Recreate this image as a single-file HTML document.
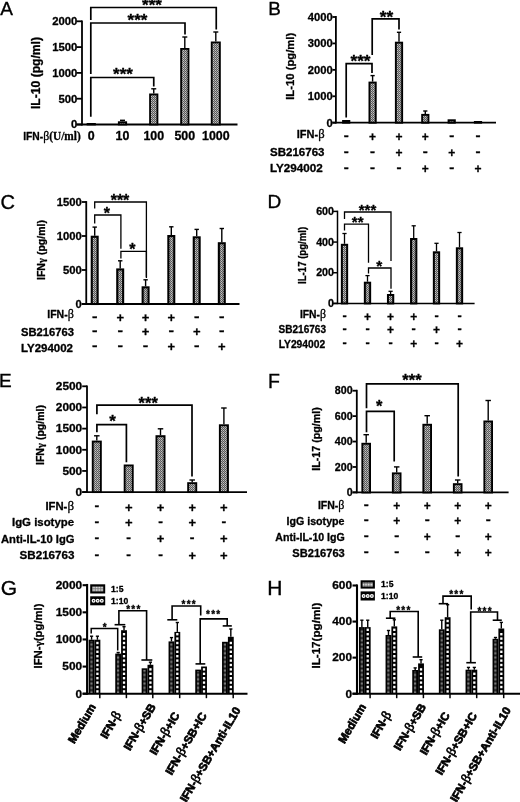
<!DOCTYPE html>
<html><head><meta charset="utf-8"><title>Figure</title>
<style>
html,body{margin:0;padding:0;background:#fff;}
svg{display:block;}
text{font-family:"Liberation Sans",Arial,Helvetica,sans-serif;fill:#000;}
text.b{stroke:#000;stroke-width:0.3px;stroke-linejoin:round;}
text.L{stroke:#000;stroke-width:0.35px;}
</style></head><body>
<svg width="520" height="802" viewBox="0 0 520 802">
<defs>
<pattern id="pg" width="2" height="2" patternUnits="userSpaceOnUse">
<rect width="2" height="2" fill="#5a5a5a"/><rect x="1" width="1" height="1" fill="#c4c4c4"/><rect y="1" width="1" height="1" fill="#a0a0a0"/>
</pattern>
<pattern id="ph" width="2" height="1.3" patternUnits="userSpaceOnUse">
<rect width="2" height="1.3" fill="#7c7c7c"/><rect width="2" height="0.65" fill="#1a1a1a"/>
</pattern>
<pattern id="pl" width="1.6" height="1.6" patternUnits="userSpaceOnUse">
<rect width="1.6" height="1.6" fill="#707070"/><rect width="1" height="1" fill="#f0f0f0"/>
</pattern>
<pattern id="pd" width="6" height="4.8" patternUnits="userSpaceOnUse">
<rect width="6" height="4.8" fill="#000"/><rect x="2" y="1.2" width="2" height="2.4" fill="#fff"/>
</pattern>
</defs>
<rect width="520" height="802" fill="#fff"/>

<text class="L" x="0.30" y="14.60" font-size="19" font-weight="normal" text-anchor="start">A</text>
<line x1="82.00" y1="20.40" x2="82.00" y2="125.40" stroke="#000" stroke-width="1.8" stroke-linecap="butt"/>
<line x1="76.50" y1="124.50" x2="237.50" y2="124.50" stroke="#000" stroke-width="1.8" stroke-linecap="butt"/>
<line x1="76.50" y1="21.30" x2="82.00" y2="21.30" stroke="#000" stroke-width="1.8" stroke-linecap="butt"/>
<text class="b" x="77.40" y="25.11" font-size="11.2" font-weight="bold" text-anchor="end" textLength="25.2" lengthAdjust="spacingAndGlyphs">2000</text>
<line x1="76.50" y1="47.10" x2="82.00" y2="47.10" stroke="#000" stroke-width="1.8" stroke-linecap="butt"/>
<text class="b" x="77.40" y="50.91" font-size="11.2" font-weight="bold" text-anchor="end" textLength="25.2" lengthAdjust="spacingAndGlyphs">1500</text>
<line x1="76.50" y1="72.90" x2="82.00" y2="72.90" stroke="#000" stroke-width="1.8" stroke-linecap="butt"/>
<text class="b" x="77.40" y="76.71" font-size="11.2" font-weight="bold" text-anchor="end" textLength="25.2" lengthAdjust="spacingAndGlyphs">1000</text>
<line x1="76.50" y1="98.70" x2="82.00" y2="98.70" stroke="#000" stroke-width="1.8" stroke-linecap="butt"/>
<text class="b" x="77.40" y="102.51" font-size="11.2" font-weight="bold" text-anchor="end" textLength="18.9" lengthAdjust="spacingAndGlyphs">500</text>
<line x1="76.50" y1="124.50" x2="82.00" y2="124.50" stroke="#000" stroke-width="1.8" stroke-linecap="butt"/>
<text class="b" x="77.40" y="128.31" font-size="11.2" font-weight="bold" text-anchor="end" textLength="6.3" lengthAdjust="spacingAndGlyphs">0</text>
<text class="b" transform="translate(40.00,73.00) rotate(-90)" font-size="12" font-weight="bold" text-anchor="middle" textLength="72.0" lengthAdjust="spacingAndGlyphs">IL-10 (pg/ml)</text>
<rect x="87.55" y="123.90" width="7.40" height="0.60" fill="url(#pg)" stroke="#000" stroke-width="1.8"/>
<rect x="118.80" y="122.20" width="7.40" height="2.30" fill="url(#pg)" stroke="#000" stroke-width="1.8"/>
<line x1="122.50" y1="121.30" x2="122.50" y2="120.30" stroke="#000" stroke-width="1.4" stroke-linecap="butt"/>
<line x1="120.00" y1="120.30" x2="125.00" y2="120.30" stroke="#000" stroke-width="1.4" stroke-linecap="butt"/>
<rect x="150.05" y="94.40" width="7.40" height="30.10" fill="url(#pg)" stroke="#000" stroke-width="1.8"/>
<line x1="153.75" y1="93.50" x2="153.75" y2="88.80" stroke="#000" stroke-width="1.4" stroke-linecap="butt"/>
<line x1="151.25" y1="88.80" x2="156.25" y2="88.80" stroke="#000" stroke-width="1.4" stroke-linecap="butt"/>
<rect x="181.10" y="48.90" width="7.40" height="75.60" fill="url(#pg)" stroke="#000" stroke-width="1.8"/>
<line x1="184.80" y1="48.00" x2="184.80" y2="37.00" stroke="#000" stroke-width="1.4" stroke-linecap="butt"/>
<line x1="182.30" y1="37.00" x2="187.30" y2="37.00" stroke="#000" stroke-width="1.4" stroke-linecap="butt"/>
<rect x="211.70" y="42.40" width="8.20" height="82.10" fill="url(#pg)" stroke="#000" stroke-width="1.8"/>
<line x1="215.80" y1="41.50" x2="215.80" y2="32.00" stroke="#000" stroke-width="1.4" stroke-linecap="butt"/>
<line x1="213.30" y1="32.00" x2="218.30" y2="32.00" stroke="#000" stroke-width="1.4" stroke-linecap="butt"/>
<text class="b" x="80.70" y="140.10" font-size="10.7" font-weight="bold" text-anchor="end" textLength="57.5" lengthAdjust="spacingAndGlyphs">IFN-<tspan font-family='"Liberation Serif", "Times New Roman", serif' font-weight="normal" font-size="1.15em">β</tspan><tspan font-family='"Liberation Serif", "Times New Roman", serif' font-weight="bold" font-size="1.1em">(U/ml)</tspan></text>
<text class="b" x="91.25" y="140.10" font-size="12" font-weight="bold" text-anchor="middle" textLength="6.9" lengthAdjust="spacingAndGlyphs">0</text>
<text class="b" x="122.50" y="140.10" font-size="12" font-weight="bold" text-anchor="middle" textLength="13.8" lengthAdjust="spacingAndGlyphs">10</text>
<text class="b" x="153.75" y="140.10" font-size="12" font-weight="bold" text-anchor="middle" textLength="20.7" lengthAdjust="spacingAndGlyphs">100</text>
<text class="b" x="184.80" y="140.10" font-size="12" font-weight="bold" text-anchor="middle" textLength="20.7" lengthAdjust="spacingAndGlyphs">500</text>
<text class="b" x="215.80" y="140.10" font-size="12" font-weight="bold" text-anchor="middle" textLength="27.6" lengthAdjust="spacingAndGlyphs">1000</text>
<polyline points="90.80,20.00 90.80,7.50 216.25,7.50 216.25,29.50" fill="none" stroke="#000" stroke-width="1.7" stroke-linejoin="miter"/>
<text class="b" x="152.00" y="11.41" font-size="17" font-weight="bold" text-anchor="middle">***</text>
<polyline points="90.80,74.00 90.80,23.00 185.00,23.00 185.00,34.60" fill="none" stroke="#000" stroke-width="1.7" stroke-linejoin="miter"/>
<text class="b" x="137.50" y="26.41" font-size="17" font-weight="bold" text-anchor="middle">***</text>
<polyline points="90.80,116.80 90.80,77.50 153.75,77.50 153.75,86.50" fill="none" stroke="#000" stroke-width="1.7" stroke-linejoin="miter"/>
<text class="b" x="123.00" y="80.11" font-size="17" font-weight="bold" text-anchor="middle">***</text>
<text class="L" x="268.30" y="15.40" font-size="19" font-weight="normal" text-anchor="start" textLength="12.6" lengthAdjust="spacingAndGlyphs">B</text>
<line x1="335.90" y1="16.10" x2="335.90" y2="123.60" stroke="#000" stroke-width="1.8" stroke-linecap="butt"/>
<line x1="332.40" y1="122.70" x2="496.00" y2="122.70" stroke="#000" stroke-width="1.8" stroke-linecap="butt"/>
<line x1="332.40" y1="17.00" x2="335.90" y2="17.00" stroke="#000" stroke-width="1.8" stroke-linecap="butt"/>
<text class="b" x="332.70" y="20.81" font-size="11.2" font-weight="bold" text-anchor="end">4000</text>
<line x1="332.40" y1="43.42" x2="335.90" y2="43.42" stroke="#000" stroke-width="1.8" stroke-linecap="butt"/>
<text class="b" x="332.70" y="47.23" font-size="11.2" font-weight="bold" text-anchor="end">3000</text>
<line x1="332.40" y1="69.85" x2="335.90" y2="69.85" stroke="#000" stroke-width="1.8" stroke-linecap="butt"/>
<text class="b" x="332.70" y="73.66" font-size="11.2" font-weight="bold" text-anchor="end">2000</text>
<line x1="332.40" y1="96.28" x2="335.90" y2="96.28" stroke="#000" stroke-width="1.8" stroke-linecap="butt"/>
<text class="b" x="332.70" y="100.08" font-size="11.2" font-weight="bold" text-anchor="end">1000</text>
<line x1="332.40" y1="122.70" x2="335.90" y2="122.70" stroke="#000" stroke-width="1.8" stroke-linecap="butt"/>
<text class="b" x="332.70" y="126.51" font-size="11.2" font-weight="bold" text-anchor="end">0</text>
<text class="b" transform="translate(293.50,66.30) rotate(-90)" font-size="11.3" font-weight="bold" text-anchor="middle" textLength="67.0" lengthAdjust="spacingAndGlyphs">IL-10 (pg/ml)</text>
<rect x="343.05" y="120.95" width="6.30" height="1.75" fill="url(#pg)" stroke="#000" stroke-width="1.9"/>
<rect x="369.45" y="82.55" width="6.30" height="40.15" fill="url(#pg)" stroke="#000" stroke-width="1.9"/>
<line x1="372.60" y1="81.60" x2="372.60" y2="75.60" stroke="#000" stroke-width="1.4" stroke-linecap="butt"/>
<line x1="370.50" y1="75.60" x2="374.70" y2="75.60" stroke="#000" stroke-width="1.4" stroke-linecap="butt"/>
<rect x="395.85" y="42.65" width="6.30" height="80.05" fill="url(#pg)" stroke="#000" stroke-width="1.9"/>
<line x1="399.00" y1="41.70" x2="399.00" y2="32.30" stroke="#000" stroke-width="1.4" stroke-linecap="butt"/>
<line x1="396.90" y1="32.30" x2="401.10" y2="32.30" stroke="#000" stroke-width="1.4" stroke-linecap="butt"/>
<rect x="422.15" y="114.85" width="6.30" height="7.85" fill="url(#pg)" stroke="#000" stroke-width="1.9"/>
<line x1="425.30" y1="113.90" x2="425.30" y2="111.00" stroke="#000" stroke-width="1.4" stroke-linecap="butt"/>
<line x1="423.20" y1="111.00" x2="427.40" y2="111.00" stroke="#000" stroke-width="1.4" stroke-linecap="butt"/>
<rect x="448.55" y="120.25" width="6.30" height="2.45" fill="url(#pg)" stroke="#000" stroke-width="1.9"/>
<rect x="474.85" y="121.95" width="6.30" height="0.75" fill="url(#pg)" stroke="#000" stroke-width="1.9"/>
<text class="b" x="324.60" y="137.50" font-size="11" font-weight="bold" text-anchor="end">IFN-<tspan font-family='"Liberation Serif", "Times New Roman", serif' font-weight="normal" font-size="1.15em">β</tspan></text>
<text class="b" x="324.50" y="155.90" font-size="11" font-weight="bold" text-anchor="end" textLength="54.5" lengthAdjust="spacingAndGlyphs">SB216763</text>
<text class="b" x="322.80" y="172.30" font-size="11" font-weight="bold" text-anchor="end" textLength="52.8" lengthAdjust="spacingAndGlyphs">LY294002</text>
<text class="b" x="346.20" y="140.22" font-size="12" font-weight="bold" text-anchor="middle" textLength="5.0" lengthAdjust="spacingAndGlyphs">-</text>
<text class="b" x="372.60" y="141.18" font-size="12" font-weight="bold" text-anchor="middle">+</text>
<text class="b" x="399.00" y="141.18" font-size="12" font-weight="bold" text-anchor="middle">+</text>
<text class="b" x="425.30" y="141.18" font-size="12" font-weight="bold" text-anchor="middle">+</text>
<text class="b" x="451.70" y="140.22" font-size="12" font-weight="bold" text-anchor="middle" textLength="5.0" lengthAdjust="spacingAndGlyphs">-</text>
<text class="b" x="478.00" y="140.22" font-size="12" font-weight="bold" text-anchor="middle" textLength="5.0" lengthAdjust="spacingAndGlyphs">-</text>
<text class="b" x="346.20" y="155.82" font-size="12" font-weight="bold" text-anchor="middle" textLength="5.0" lengthAdjust="spacingAndGlyphs">-</text>
<text class="b" x="372.60" y="155.82" font-size="12" font-weight="bold" text-anchor="middle" textLength="5.0" lengthAdjust="spacingAndGlyphs">-</text>
<text class="b" x="399.00" y="156.78" font-size="12" font-weight="bold" text-anchor="middle">+</text>
<text class="b" x="425.30" y="155.82" font-size="12" font-weight="bold" text-anchor="middle" textLength="5.0" lengthAdjust="spacingAndGlyphs">-</text>
<text class="b" x="451.70" y="156.78" font-size="12" font-weight="bold" text-anchor="middle">+</text>
<text class="b" x="478.00" y="155.82" font-size="12" font-weight="bold" text-anchor="middle" textLength="5.0" lengthAdjust="spacingAndGlyphs">-</text>
<text class="b" x="346.20" y="171.92" font-size="12" font-weight="bold" text-anchor="middle" textLength="5.0" lengthAdjust="spacingAndGlyphs">-</text>
<text class="b" x="372.60" y="171.92" font-size="12" font-weight="bold" text-anchor="middle" textLength="5.0" lengthAdjust="spacingAndGlyphs">-</text>
<text class="b" x="399.00" y="171.92" font-size="12" font-weight="bold" text-anchor="middle" textLength="5.0" lengthAdjust="spacingAndGlyphs">-</text>
<text class="b" x="425.30" y="172.88" font-size="12" font-weight="bold" text-anchor="middle">+</text>
<text class="b" x="451.70" y="171.92" font-size="12" font-weight="bold" text-anchor="middle" textLength="5.0" lengthAdjust="spacingAndGlyphs">-</text>
<text class="b" x="478.00" y="172.88" font-size="12" font-weight="bold" text-anchor="middle">+</text>
<polyline points="346.20,117.50 346.20,63.60 372.00,63.60 372.00,73.00" fill="none" stroke="#000" stroke-width="1.7" stroke-linejoin="miter"/>
<text class="b" x="360.50" y="67.40" font-size="17.3" font-weight="bold" text-anchor="middle">***</text>
<polyline points="372.20,55.00 372.20,18.80 399.00,18.80 399.00,29.60" fill="none" stroke="#000" stroke-width="1.7" stroke-linejoin="miter"/>
<text class="b" x="386.50" y="23.00" font-size="17.3" font-weight="bold" text-anchor="middle">**</text>
<text class="L" x="0.50" y="209.30" font-size="20" font-weight="normal" text-anchor="start">C</text>
<line x1="86.25" y1="201.10" x2="86.25" y2="304.90" stroke="#000" stroke-width="1.8" stroke-linecap="butt"/>
<line x1="81.75" y1="304.00" x2="239.50" y2="304.00" stroke="#000" stroke-width="1.8" stroke-linecap="butt"/>
<line x1="81.75" y1="202.00" x2="86.25" y2="202.00" stroke="#000" stroke-width="1.8" stroke-linecap="butt"/>
<text class="b" x="81.75" y="205.74" font-size="11" font-weight="bold" text-anchor="end" textLength="25.0" lengthAdjust="spacingAndGlyphs">1500</text>
<line x1="81.75" y1="236.00" x2="86.25" y2="236.00" stroke="#000" stroke-width="1.8" stroke-linecap="butt"/>
<text class="b" x="81.75" y="239.74" font-size="11" font-weight="bold" text-anchor="end" textLength="25.0" lengthAdjust="spacingAndGlyphs">1000</text>
<line x1="81.75" y1="270.00" x2="86.25" y2="270.00" stroke="#000" stroke-width="1.8" stroke-linecap="butt"/>
<text class="b" x="81.75" y="273.74" font-size="11" font-weight="bold" text-anchor="end" textLength="18.8" lengthAdjust="spacingAndGlyphs">500</text>
<line x1="81.75" y1="304.00" x2="86.25" y2="304.00" stroke="#000" stroke-width="1.8" stroke-linecap="butt"/>
<text class="b" x="81.75" y="307.74" font-size="11" font-weight="bold" text-anchor="end" textLength="6.2" lengthAdjust="spacingAndGlyphs">0</text>
<text class="b" transform="translate(45.00,250.00) rotate(-90)" font-size="10.4" font-weight="bold" text-anchor="middle" textLength="60.0" lengthAdjust="spacingAndGlyphs">IFN<tspan font-family='"Liberation Serif", "Times New Roman", serif' font-weight="bold">γ</tspan> (pg/ml)</text>
<rect x="91.75" y="236.75" width="5.90" height="67.25" fill="url(#pg)" stroke="#000" stroke-width="2.1"/>
<line x1="94.70" y1="235.70" x2="94.70" y2="227.10" stroke="#000" stroke-width="1.4" stroke-linecap="butt"/>
<line x1="92.50" y1="227.10" x2="96.90" y2="227.10" stroke="#000" stroke-width="1.4" stroke-linecap="butt"/>
<rect x="117.25" y="269.45" width="5.90" height="34.55" fill="url(#pg)" stroke="#000" stroke-width="2.1"/>
<line x1="120.20" y1="268.40" x2="120.20" y2="260.80" stroke="#000" stroke-width="1.4" stroke-linecap="butt"/>
<line x1="118.00" y1="260.80" x2="122.40" y2="260.80" stroke="#000" stroke-width="1.4" stroke-linecap="butt"/>
<rect x="142.65" y="287.35" width="5.90" height="16.65" fill="url(#pg)" stroke="#000" stroke-width="2.1"/>
<line x1="145.60" y1="286.30" x2="145.60" y2="279.80" stroke="#000" stroke-width="1.4" stroke-linecap="butt"/>
<line x1="143.40" y1="279.80" x2="147.80" y2="279.80" stroke="#000" stroke-width="1.4" stroke-linecap="butt"/>
<rect x="168.35" y="236.05" width="5.90" height="67.95" fill="url(#pg)" stroke="#000" stroke-width="2.1"/>
<line x1="171.30" y1="235.00" x2="171.30" y2="226.80" stroke="#000" stroke-width="1.4" stroke-linecap="butt"/>
<line x1="169.10" y1="226.80" x2="173.50" y2="226.80" stroke="#000" stroke-width="1.4" stroke-linecap="butt"/>
<rect x="193.75" y="237.35" width="5.90" height="66.65" fill="url(#pg)" stroke="#000" stroke-width="2.1"/>
<line x1="196.70" y1="236.30" x2="196.70" y2="229.40" stroke="#000" stroke-width="1.4" stroke-linecap="butt"/>
<line x1="194.50" y1="229.40" x2="198.90" y2="229.40" stroke="#000" stroke-width="1.4" stroke-linecap="butt"/>
<rect x="218.85" y="243.25" width="5.90" height="60.75" fill="url(#pg)" stroke="#000" stroke-width="2.1"/>
<line x1="221.80" y1="242.20" x2="221.80" y2="228.50" stroke="#000" stroke-width="1.4" stroke-linecap="butt"/>
<line x1="219.60" y1="228.50" x2="224.00" y2="228.50" stroke="#000" stroke-width="1.4" stroke-linecap="butt"/>
<text class="b" x="73.80" y="318.00" font-size="10.5" font-weight="bold" text-anchor="end">IFN-<tspan font-family='"Liberation Serif", "Times New Roman", serif' font-weight="normal" font-size="1.15em">β</tspan></text>
<text class="b" x="74.00" y="336.00" font-size="10.5" font-weight="bold" text-anchor="end" textLength="53.0" lengthAdjust="spacingAndGlyphs">SB216763</text>
<text class="b" x="73.00" y="351.50" font-size="10.5" font-weight="bold" text-anchor="end" textLength="52.0" lengthAdjust="spacingAndGlyphs">LY294002</text>
<text class="b" x="94.70" y="320.68" font-size="13" font-weight="bold" text-anchor="middle" textLength="5.5" lengthAdjust="spacingAndGlyphs">-</text>
<text class="b" x="120.20" y="321.72" font-size="13" font-weight="bold" text-anchor="middle">+</text>
<text class="b" x="145.60" y="321.72" font-size="13" font-weight="bold" text-anchor="middle">+</text>
<text class="b" x="171.30" y="321.72" font-size="13" font-weight="bold" text-anchor="middle">+</text>
<text class="b" x="196.70" y="320.68" font-size="13" font-weight="bold" text-anchor="middle" textLength="5.5" lengthAdjust="spacingAndGlyphs">-</text>
<text class="b" x="221.80" y="320.68" font-size="13" font-weight="bold" text-anchor="middle" textLength="5.5" lengthAdjust="spacingAndGlyphs">-</text>
<text class="b" x="94.70" y="335.18" font-size="13" font-weight="bold" text-anchor="middle" textLength="5.5" lengthAdjust="spacingAndGlyphs">-</text>
<text class="b" x="120.20" y="335.18" font-size="13" font-weight="bold" text-anchor="middle" textLength="5.5" lengthAdjust="spacingAndGlyphs">-</text>
<text class="b" x="145.60" y="336.22" font-size="13" font-weight="bold" text-anchor="middle">+</text>
<text class="b" x="171.30" y="335.18" font-size="13" font-weight="bold" text-anchor="middle" textLength="5.5" lengthAdjust="spacingAndGlyphs">-</text>
<text class="b" x="196.70" y="336.22" font-size="13" font-weight="bold" text-anchor="middle">+</text>
<text class="b" x="221.80" y="335.18" font-size="13" font-weight="bold" text-anchor="middle" textLength="5.5" lengthAdjust="spacingAndGlyphs">-</text>
<text class="b" x="94.70" y="350.38" font-size="13" font-weight="bold" text-anchor="middle" textLength="5.5" lengthAdjust="spacingAndGlyphs">-</text>
<text class="b" x="120.20" y="350.38" font-size="13" font-weight="bold" text-anchor="middle" textLength="5.5" lengthAdjust="spacingAndGlyphs">-</text>
<text class="b" x="145.60" y="350.38" font-size="13" font-weight="bold" text-anchor="middle" textLength="5.5" lengthAdjust="spacingAndGlyphs">-</text>
<text class="b" x="171.30" y="351.42" font-size="13" font-weight="bold" text-anchor="middle">+</text>
<text class="b" x="196.70" y="350.38" font-size="13" font-weight="bold" text-anchor="middle" textLength="5.5" lengthAdjust="spacingAndGlyphs">-</text>
<text class="b" x="221.80" y="351.42" font-size="13" font-weight="bold" text-anchor="middle">+</text>
<polyline points="94.70,208.50 94.70,202.00 146.40,202.00 146.40,278.00" fill="none" stroke="#000" stroke-width="1.3" stroke-linejoin="miter"/>
<text class="b" x="120.00" y="205.79" font-size="16" font-weight="bold" text-anchor="middle">***</text>
<polyline points="94.70,223.60 94.70,215.00 120.90,215.00 120.90,248.70" fill="none" stroke="#000" stroke-width="1.3" stroke-linejoin="miter"/>
<text class="b" x="106.80" y="218.89" font-size="16" font-weight="bold" text-anchor="middle">*</text>
<polyline points="120.90,258.50 120.90,251.40 146.40,251.40 146.40,277.00" fill="none" stroke="#000" stroke-width="1.3" stroke-linejoin="miter"/>
<text class="b" x="132.30" y="254.89" font-size="16" font-weight="bold" text-anchor="middle">*</text>
<text class="L" x="267.60" y="207.80" font-size="19" font-weight="normal" text-anchor="start">D</text>
<line x1="337.50" y1="210.65" x2="337.50" y2="304.15" stroke="#000" stroke-width="1.5" stroke-linecap="butt"/>
<line x1="333.10" y1="303.40" x2="474.60" y2="303.40" stroke="#000" stroke-width="1.5" stroke-linecap="butt"/>
<line x1="333.10" y1="211.40" x2="337.50" y2="211.40" stroke="#000" stroke-width="1.5" stroke-linecap="butt"/>
<text class="b" x="334.00" y="215.04" font-size="10.7" font-weight="bold" text-anchor="end">600</text>
<line x1="333.10" y1="242.07" x2="337.50" y2="242.07" stroke="#000" stroke-width="1.5" stroke-linecap="butt"/>
<text class="b" x="334.00" y="245.70" font-size="10.7" font-weight="bold" text-anchor="end">400</text>
<line x1="333.10" y1="272.73" x2="337.50" y2="272.73" stroke="#000" stroke-width="1.5" stroke-linecap="butt"/>
<text class="b" x="334.00" y="276.37" font-size="10.7" font-weight="bold" text-anchor="end">200</text>
<line x1="333.10" y1="303.40" x2="337.50" y2="303.40" stroke="#000" stroke-width="1.5" stroke-linecap="butt"/>
<text class="b" x="334.00" y="307.04" font-size="10.7" font-weight="bold" text-anchor="end">0</text>
<text class="b" transform="translate(306.00,255.40) rotate(-90)" font-size="10.5" font-weight="bold" text-anchor="middle" textLength="57.0" lengthAdjust="spacingAndGlyphs">IL-17 (pg/ml)</text>
<rect x="341.85" y="244.80" width="5.30" height="58.60" fill="url(#pg)" stroke="#000" stroke-width="2.0"/>
<line x1="344.50" y1="243.80" x2="344.50" y2="233.50" stroke="#000" stroke-width="1.3" stroke-linecap="butt"/>
<line x1="342.40" y1="233.50" x2="346.60" y2="233.50" stroke="#000" stroke-width="1.3" stroke-linecap="butt"/>
<rect x="364.85" y="282.70" width="5.30" height="20.70" fill="url(#pg)" stroke="#000" stroke-width="2.0"/>
<line x1="367.50" y1="281.70" x2="367.50" y2="275.60" stroke="#000" stroke-width="1.3" stroke-linecap="butt"/>
<line x1="365.40" y1="275.60" x2="369.60" y2="275.60" stroke="#000" stroke-width="1.3" stroke-linecap="butt"/>
<rect x="387.95" y="295.00" width="5.30" height="8.40" fill="url(#pg)" stroke="#000" stroke-width="2.0"/>
<line x1="390.60" y1="294.00" x2="390.60" y2="291.30" stroke="#000" stroke-width="1.3" stroke-linecap="butt"/>
<line x1="388.50" y1="291.30" x2="392.70" y2="291.30" stroke="#000" stroke-width="1.3" stroke-linecap="butt"/>
<rect x="411.05" y="239.00" width="5.30" height="64.40" fill="url(#pg)" stroke="#000" stroke-width="2.0"/>
<line x1="413.70" y1="238.00" x2="413.70" y2="225.80" stroke="#000" stroke-width="1.3" stroke-linecap="butt"/>
<line x1="411.60" y1="225.80" x2="415.80" y2="225.80" stroke="#000" stroke-width="1.3" stroke-linecap="butt"/>
<rect x="433.85" y="252.30" width="5.30" height="51.10" fill="url(#pg)" stroke="#000" stroke-width="2.0"/>
<line x1="436.50" y1="251.30" x2="436.50" y2="243.30" stroke="#000" stroke-width="1.3" stroke-linecap="butt"/>
<line x1="434.40" y1="243.30" x2="438.60" y2="243.30" stroke="#000" stroke-width="1.3" stroke-linecap="butt"/>
<rect x="456.85" y="248.30" width="5.30" height="55.10" fill="url(#pg)" stroke="#000" stroke-width="2.0"/>
<line x1="459.50" y1="247.30" x2="459.50" y2="232.50" stroke="#000" stroke-width="1.3" stroke-linecap="butt"/>
<line x1="457.40" y1="232.50" x2="461.60" y2="232.50" stroke="#000" stroke-width="1.3" stroke-linecap="butt"/>
<text class="b" x="326.00" y="317.60" font-size="10.3" font-weight="bold" text-anchor="end">IFN-<tspan font-family='"Liberation Serif", "Times New Roman", serif' font-weight="normal" font-size="1.15em">β</tspan></text>
<text class="b" x="326.00" y="333.00" font-size="10.5" font-weight="bold" text-anchor="end" textLength="47.5" lengthAdjust="spacingAndGlyphs">SB216763</text>
<text class="b" x="325.20" y="347.70" font-size="10.5" font-weight="bold" text-anchor="end" textLength="46.5" lengthAdjust="spacingAndGlyphs">LY294002</text>
<text class="b" x="344.50" y="319.62" font-size="12" font-weight="bold" text-anchor="middle" textLength="4.2" lengthAdjust="spacingAndGlyphs">-</text>
<text class="b" x="367.50" y="320.58" font-size="12" font-weight="bold" text-anchor="middle">+</text>
<text class="b" x="390.60" y="320.58" font-size="12" font-weight="bold" text-anchor="middle">+</text>
<text class="b" x="413.70" y="320.58" font-size="12" font-weight="bold" text-anchor="middle">+</text>
<text class="b" x="436.50" y="319.62" font-size="12" font-weight="bold" text-anchor="middle" textLength="4.2" lengthAdjust="spacingAndGlyphs">-</text>
<text class="b" x="459.50" y="319.62" font-size="12" font-weight="bold" text-anchor="middle" textLength="4.2" lengthAdjust="spacingAndGlyphs">-</text>
<text class="b" x="344.50" y="332.62" font-size="12" font-weight="bold" text-anchor="middle" textLength="4.2" lengthAdjust="spacingAndGlyphs">-</text>
<text class="b" x="367.50" y="332.62" font-size="12" font-weight="bold" text-anchor="middle" textLength="4.2" lengthAdjust="spacingAndGlyphs">-</text>
<text class="b" x="390.60" y="333.58" font-size="12" font-weight="bold" text-anchor="middle">+</text>
<text class="b" x="413.70" y="332.62" font-size="12" font-weight="bold" text-anchor="middle" textLength="4.2" lengthAdjust="spacingAndGlyphs">-</text>
<text class="b" x="436.50" y="333.58" font-size="12" font-weight="bold" text-anchor="middle">+</text>
<text class="b" x="459.50" y="332.62" font-size="12" font-weight="bold" text-anchor="middle" textLength="4.2" lengthAdjust="spacingAndGlyphs">-</text>
<text class="b" x="344.50" y="347.32" font-size="12" font-weight="bold" text-anchor="middle" textLength="4.2" lengthAdjust="spacingAndGlyphs">-</text>
<text class="b" x="367.50" y="347.32" font-size="12" font-weight="bold" text-anchor="middle" textLength="4.2" lengthAdjust="spacingAndGlyphs">-</text>
<text class="b" x="390.60" y="347.32" font-size="12" font-weight="bold" text-anchor="middle" textLength="4.2" lengthAdjust="spacingAndGlyphs">-</text>
<text class="b" x="413.70" y="348.28" font-size="12" font-weight="bold" text-anchor="middle">+</text>
<text class="b" x="436.50" y="347.32" font-size="12" font-weight="bold" text-anchor="middle" textLength="4.2" lengthAdjust="spacingAndGlyphs">-</text>
<text class="b" x="459.50" y="348.28" font-size="12" font-weight="bold" text-anchor="middle">+</text>
<polyline points="344.50,219.00 344.50,212.00 391.00,212.00 391.00,261.00" fill="none" stroke="#000" stroke-width="1.3" stroke-linejoin="miter"/>
<text class="b" x="367.50" y="215.37" font-size="15" font-weight="bold" text-anchor="middle">***</text>
<polyline points="344.50,230.40 344.50,224.20 368.50,224.20 368.50,262.70" fill="none" stroke="#000" stroke-width="1.3" stroke-linejoin="miter"/>
<text class="b" x="357.70" y="227.47" font-size="15" font-weight="bold" text-anchor="middle">**</text>
<polyline points="368.50,273.50 368.50,268.00 391.00,268.00 391.00,288.80" fill="none" stroke="#000" stroke-width="1.3" stroke-linejoin="miter"/>
<text class="b" x="379.20" y="271.33" font-size="15.5" font-weight="bold" text-anchor="middle">*</text>
<text class="L" x="-1.00" y="387.40" font-size="19" font-weight="normal" text-anchor="start">E</text>
<line x1="87.00" y1="385.40" x2="87.00" y2="493.00" stroke="#000" stroke-width="1.8" stroke-linecap="butt"/>
<line x1="82.20" y1="492.10" x2="247.00" y2="492.10" stroke="#000" stroke-width="1.8" stroke-linecap="butt"/>
<line x1="82.20" y1="386.30" x2="87.00" y2="386.30" stroke="#000" stroke-width="1.8" stroke-linecap="butt"/>
<text class="b" x="82.20" y="390.04" font-size="11" font-weight="bold" text-anchor="end" textLength="26.4" lengthAdjust="spacingAndGlyphs">2500</text>
<line x1="82.20" y1="407.46" x2="87.00" y2="407.46" stroke="#000" stroke-width="1.8" stroke-linecap="butt"/>
<text class="b" x="82.20" y="411.20" font-size="11" font-weight="bold" text-anchor="end" textLength="26.4" lengthAdjust="spacingAndGlyphs">2000</text>
<line x1="82.20" y1="428.62" x2="87.00" y2="428.62" stroke="#000" stroke-width="1.8" stroke-linecap="butt"/>
<text class="b" x="82.20" y="432.36" font-size="11" font-weight="bold" text-anchor="end" textLength="26.4" lengthAdjust="spacingAndGlyphs">1500</text>
<line x1="82.20" y1="449.78" x2="87.00" y2="449.78" stroke="#000" stroke-width="1.8" stroke-linecap="butt"/>
<text class="b" x="82.20" y="453.52" font-size="11" font-weight="bold" text-anchor="end" textLength="26.4" lengthAdjust="spacingAndGlyphs">1000</text>
<line x1="82.20" y1="470.94" x2="87.00" y2="470.94" stroke="#000" stroke-width="1.8" stroke-linecap="butt"/>
<text class="b" x="82.20" y="474.68" font-size="11" font-weight="bold" text-anchor="end" textLength="19.8" lengthAdjust="spacingAndGlyphs">500</text>
<line x1="82.20" y1="492.10" x2="87.00" y2="492.10" stroke="#000" stroke-width="1.8" stroke-linecap="butt"/>
<text class="b" x="82.20" y="495.84" font-size="11" font-weight="bold" text-anchor="end" textLength="6.6" lengthAdjust="spacingAndGlyphs">0</text>
<text class="b" transform="translate(44.20,435.00) rotate(-90)" font-size="10.6" font-weight="bold" text-anchor="middle" textLength="60.0" lengthAdjust="spacingAndGlyphs">IFN<tspan font-family='"Liberation Serif", "Times New Roman", serif' font-weight="bold">γ</tspan> (pg/ml)</text>
<rect x="92.75" y="441.55" width="8.10" height="50.55" fill="url(#pg)" stroke="#000" stroke-width="1.9"/>
<line x1="96.80" y1="440.60" x2="96.80" y2="435.80" stroke="#000" stroke-width="1.4" stroke-linecap="butt"/>
<line x1="94.05" y1="435.80" x2="99.55" y2="435.80" stroke="#000" stroke-width="1.4" stroke-linecap="butt"/>
<rect x="124.65" y="465.45" width="8.10" height="26.65" fill="url(#pg)" stroke="#000" stroke-width="1.9"/>
<rect x="156.45" y="436.15" width="8.10" height="55.95" fill="url(#pg)" stroke="#000" stroke-width="1.9"/>
<line x1="160.50" y1="435.20" x2="160.50" y2="428.80" stroke="#000" stroke-width="1.4" stroke-linecap="butt"/>
<line x1="157.75" y1="428.80" x2="163.25" y2="428.80" stroke="#000" stroke-width="1.4" stroke-linecap="butt"/>
<rect x="188.15" y="483.15" width="8.10" height="8.95" fill="url(#pg)" stroke="#000" stroke-width="1.9"/>
<line x1="192.20" y1="482.20" x2="192.20" y2="480.00" stroke="#000" stroke-width="1.4" stroke-linecap="butt"/>
<line x1="189.45" y1="480.00" x2="194.95" y2="480.00" stroke="#000" stroke-width="1.4" stroke-linecap="butt"/>
<rect x="219.85" y="425.25" width="8.10" height="66.85" fill="url(#pg)" stroke="#000" stroke-width="1.9"/>
<line x1="223.90" y1="424.30" x2="223.90" y2="408.00" stroke="#000" stroke-width="1.4" stroke-linecap="butt"/>
<line x1="221.15" y1="408.00" x2="226.65" y2="408.00" stroke="#000" stroke-width="1.4" stroke-linecap="butt"/>
<text class="b" x="74.00" y="510.00" font-size="11.3" font-weight="bold" text-anchor="end">IFN-<tspan font-family='"Liberation Serif", "Times New Roman", serif' font-weight="normal" font-size="1.15em">β</tspan></text>
<text class="b" x="74.00" y="526.30" font-size="10.7" font-weight="bold" text-anchor="end" textLength="62.0" lengthAdjust="spacingAndGlyphs">IgG isotype</text>
<text class="b" x="74.50" y="542.60" font-size="10.7" font-weight="bold" text-anchor="end" textLength="73.5" lengthAdjust="spacingAndGlyphs">Anti-IL-10 IgG</text>
<text class="b" x="74.50" y="558.80" font-size="10.7" font-weight="bold" text-anchor="end" textLength="55.0" lengthAdjust="spacingAndGlyphs">SB216763</text>
<text class="b" x="96.80" y="510.48" font-size="13" font-weight="bold" text-anchor="middle" textLength="4.7" lengthAdjust="spacingAndGlyphs">-</text>
<text class="b" x="128.70" y="511.52" font-size="13" font-weight="bold" text-anchor="middle">+</text>
<text class="b" x="160.50" y="511.52" font-size="13" font-weight="bold" text-anchor="middle">+</text>
<text class="b" x="192.20" y="511.52" font-size="13" font-weight="bold" text-anchor="middle">+</text>
<text class="b" x="223.90" y="511.52" font-size="13" font-weight="bold" text-anchor="middle">+</text>
<text class="b" x="96.80" y="525.88" font-size="13" font-weight="bold" text-anchor="middle" textLength="4.7" lengthAdjust="spacingAndGlyphs">-</text>
<text class="b" x="128.70" y="526.92" font-size="13" font-weight="bold" text-anchor="middle">+</text>
<text class="b" x="160.50" y="525.88" font-size="13" font-weight="bold" text-anchor="middle" textLength="4.7" lengthAdjust="spacingAndGlyphs">-</text>
<text class="b" x="192.20" y="526.92" font-size="13" font-weight="bold" text-anchor="middle">+</text>
<text class="b" x="223.90" y="525.88" font-size="13" font-weight="bold" text-anchor="middle" textLength="4.7" lengthAdjust="spacingAndGlyphs">-</text>
<text class="b" x="96.80" y="542.18" font-size="13" font-weight="bold" text-anchor="middle" textLength="4.7" lengthAdjust="spacingAndGlyphs">-</text>
<text class="b" x="128.70" y="542.18" font-size="13" font-weight="bold" text-anchor="middle" textLength="4.7" lengthAdjust="spacingAndGlyphs">-</text>
<text class="b" x="160.50" y="543.22" font-size="13" font-weight="bold" text-anchor="middle">+</text>
<text class="b" x="192.20" y="542.18" font-size="13" font-weight="bold" text-anchor="middle" textLength="4.7" lengthAdjust="spacingAndGlyphs">-</text>
<text class="b" x="223.90" y="543.22" font-size="13" font-weight="bold" text-anchor="middle">+</text>
<text class="b" x="96.80" y="558.68" font-size="13" font-weight="bold" text-anchor="middle" textLength="4.7" lengthAdjust="spacingAndGlyphs">-</text>
<text class="b" x="128.70" y="558.68" font-size="13" font-weight="bold" text-anchor="middle" textLength="4.7" lengthAdjust="spacingAndGlyphs">-</text>
<text class="b" x="160.50" y="558.68" font-size="13" font-weight="bold" text-anchor="middle" textLength="4.7" lengthAdjust="spacingAndGlyphs">-</text>
<text class="b" x="192.20" y="559.72" font-size="13" font-weight="bold" text-anchor="middle">+</text>
<text class="b" x="223.90" y="559.72" font-size="13" font-weight="bold" text-anchor="middle">+</text>
<polyline points="96.90,414.30 96.90,405.20 192.00,405.20 192.00,476.60" fill="none" stroke="#000" stroke-width="1.7" stroke-linejoin="miter"/>
<text class="b" x="148.20" y="408.55" font-size="16.5" font-weight="bold" text-anchor="middle">***</text>
<polyline points="96.90,432.30 96.90,424.70 126.40,424.70 126.40,462.30" fill="none" stroke="#000" stroke-width="1.7" stroke-linejoin="miter"/>
<text class="b" x="112.60" y="427.31" font-size="17" font-weight="bold" text-anchor="middle">*</text>
<text class="L" x="268.00" y="388.30" font-size="19.5" font-weight="normal" text-anchor="start">F</text>
<line x1="356.80" y1="389.80" x2="356.80" y2="493.30" stroke="#000" stroke-width="1.8" stroke-linecap="butt"/>
<line x1="352.60" y1="492.40" x2="508.60" y2="492.40" stroke="#000" stroke-width="1.8" stroke-linecap="butt"/>
<line x1="352.60" y1="390.70" x2="356.80" y2="390.70" stroke="#000" stroke-width="1.8" stroke-linecap="butt"/>
<text class="b" x="352.60" y="394.34" font-size="10.7" font-weight="bold" text-anchor="end">800</text>
<line x1="352.60" y1="416.12" x2="356.80" y2="416.12" stroke="#000" stroke-width="1.8" stroke-linecap="butt"/>
<text class="b" x="352.60" y="419.76" font-size="10.7" font-weight="bold" text-anchor="end">600</text>
<line x1="352.60" y1="441.55" x2="356.80" y2="441.55" stroke="#000" stroke-width="1.8" stroke-linecap="butt"/>
<text class="b" x="352.60" y="445.19" font-size="10.7" font-weight="bold" text-anchor="end">400</text>
<line x1="352.60" y1="466.97" x2="356.80" y2="466.97" stroke="#000" stroke-width="1.8" stroke-linecap="butt"/>
<text class="b" x="352.60" y="470.61" font-size="10.7" font-weight="bold" text-anchor="end">200</text>
<line x1="352.60" y1="492.40" x2="356.80" y2="492.40" stroke="#000" stroke-width="1.8" stroke-linecap="butt"/>
<text class="b" x="352.60" y="496.04" font-size="10.7" font-weight="bold" text-anchor="end">0</text>
<text class="b" transform="translate(320.10,439.00) rotate(-90)" font-size="11" font-weight="bold" text-anchor="middle" textLength="63.5" lengthAdjust="spacingAndGlyphs">IL-17 (pg/ml)</text>
<rect x="362.35" y="443.75" width="7.70" height="48.75" fill="url(#pg)" stroke="#000" stroke-width="1.9"/>
<line x1="366.20" y1="442.80" x2="366.20" y2="434.70" stroke="#000" stroke-width="1.4" stroke-linecap="butt"/>
<line x1="363.45" y1="434.70" x2="368.95" y2="434.70" stroke="#000" stroke-width="1.4" stroke-linecap="butt"/>
<rect x="392.85" y="473.35" width="7.70" height="19.15" fill="url(#pg)" stroke="#000" stroke-width="1.9"/>
<line x1="396.70" y1="472.40" x2="396.70" y2="466.90" stroke="#000" stroke-width="1.4" stroke-linecap="butt"/>
<line x1="393.95" y1="466.90" x2="399.45" y2="466.90" stroke="#000" stroke-width="1.4" stroke-linecap="butt"/>
<rect x="423.35" y="424.75" width="7.70" height="67.75" fill="url(#pg)" stroke="#000" stroke-width="1.9"/>
<line x1="427.20" y1="423.80" x2="427.20" y2="415.70" stroke="#000" stroke-width="1.4" stroke-linecap="butt"/>
<line x1="424.45" y1="415.70" x2="429.95" y2="415.70" stroke="#000" stroke-width="1.4" stroke-linecap="butt"/>
<rect x="453.85" y="484.15" width="7.70" height="8.35" fill="url(#pg)" stroke="#000" stroke-width="1.9"/>
<line x1="457.70" y1="483.20" x2="457.70" y2="480.00" stroke="#000" stroke-width="1.4" stroke-linecap="butt"/>
<line x1="454.95" y1="480.00" x2="460.45" y2="480.00" stroke="#000" stroke-width="1.4" stroke-linecap="butt"/>
<rect x="484.35" y="421.45" width="7.70" height="71.05" fill="url(#pg)" stroke="#000" stroke-width="1.9"/>
<line x1="488.20" y1="420.50" x2="488.20" y2="400.50" stroke="#000" stroke-width="1.4" stroke-linecap="butt"/>
<line x1="485.45" y1="400.50" x2="490.95" y2="400.50" stroke="#000" stroke-width="1.4" stroke-linecap="butt"/>
<text class="b" x="344.50" y="509.00" font-size="10.5" font-weight="bold" text-anchor="end">IFN-<tspan font-family='"Liberation Serif", "Times New Roman", serif' font-weight="normal" font-size="1.15em">β</tspan></text>
<text class="b" x="344.50" y="524.70" font-size="10.5" font-weight="bold" text-anchor="end" textLength="58.0" lengthAdjust="spacingAndGlyphs">IgG isotype</text>
<text class="b" x="344.80" y="540.50" font-size="10.5" font-weight="bold" text-anchor="end" textLength="69.5" lengthAdjust="spacingAndGlyphs">Anti-IL-10 IgG</text>
<text class="b" x="344.80" y="556.50" font-size="10.5" font-weight="bold" text-anchor="end" textLength="52.5" lengthAdjust="spacingAndGlyphs">SB216763</text>
<text class="b" x="366.20" y="508.82" font-size="12" font-weight="bold" text-anchor="middle" textLength="5.0" lengthAdjust="spacingAndGlyphs">-</text>
<text class="b" x="396.70" y="509.78" font-size="12" font-weight="bold" text-anchor="middle">+</text>
<text class="b" x="427.20" y="509.78" font-size="12" font-weight="bold" text-anchor="middle">+</text>
<text class="b" x="457.70" y="509.78" font-size="12" font-weight="bold" text-anchor="middle">+</text>
<text class="b" x="488.20" y="509.78" font-size="12" font-weight="bold" text-anchor="middle">+</text>
<text class="b" x="366.20" y="524.42" font-size="12" font-weight="bold" text-anchor="middle" textLength="5.0" lengthAdjust="spacingAndGlyphs">-</text>
<text class="b" x="396.70" y="525.38" font-size="12" font-weight="bold" text-anchor="middle">+</text>
<text class="b" x="427.20" y="524.42" font-size="12" font-weight="bold" text-anchor="middle" textLength="5.0" lengthAdjust="spacingAndGlyphs">-</text>
<text class="b" x="457.70" y="525.38" font-size="12" font-weight="bold" text-anchor="middle">+</text>
<text class="b" x="488.20" y="524.42" font-size="12" font-weight="bold" text-anchor="middle" textLength="5.0" lengthAdjust="spacingAndGlyphs">-</text>
<text class="b" x="366.20" y="539.92" font-size="12" font-weight="bold" text-anchor="middle" textLength="5.0" lengthAdjust="spacingAndGlyphs">-</text>
<text class="b" x="396.70" y="539.92" font-size="12" font-weight="bold" text-anchor="middle" textLength="5.0" lengthAdjust="spacingAndGlyphs">-</text>
<text class="b" x="427.20" y="540.88" font-size="12" font-weight="bold" text-anchor="middle">+</text>
<text class="b" x="457.70" y="539.92" font-size="12" font-weight="bold" text-anchor="middle" textLength="5.0" lengthAdjust="spacingAndGlyphs">-</text>
<text class="b" x="488.20" y="540.88" font-size="12" font-weight="bold" text-anchor="middle">+</text>
<text class="b" x="366.20" y="555.72" font-size="12" font-weight="bold" text-anchor="middle" textLength="5.0" lengthAdjust="spacingAndGlyphs">-</text>
<text class="b" x="396.70" y="555.72" font-size="12" font-weight="bold" text-anchor="middle" textLength="5.0" lengthAdjust="spacingAndGlyphs">-</text>
<text class="b" x="427.20" y="555.72" font-size="12" font-weight="bold" text-anchor="middle" textLength="5.0" lengthAdjust="spacingAndGlyphs">-</text>
<text class="b" x="457.70" y="556.68" font-size="12" font-weight="bold" text-anchor="middle">+</text>
<text class="b" x="488.20" y="556.68" font-size="12" font-weight="bold" text-anchor="middle">+</text>
<polyline points="366.50,408.30 366.50,383.80 458.20,383.80 458.20,476.60" fill="none" stroke="#000" stroke-width="1.7" stroke-linejoin="miter"/>
<text class="b" x="412.00" y="385.55" font-size="16.5" font-weight="bold" text-anchor="middle">***</text>
<polyline points="366.50,432.30 366.50,411.30 394.20,411.30 394.20,461.50" fill="none" stroke="#000" stroke-width="1.7" stroke-linejoin="miter"/>
<text class="b" x="379.10" y="412.05" font-size="16.5" font-weight="bold" text-anchor="middle">*</text>
<text class="L" x="0.80" y="595.20" font-size="21" font-weight="normal" text-anchor="start">G</text>
<line x1="87.10" y1="583.95" x2="87.10" y2="694.75" stroke="#000" stroke-width="2.1" stroke-linecap="butt"/>
<line x1="82.60" y1="693.70" x2="247.50" y2="693.70" stroke="#000" stroke-width="2.1" stroke-linecap="butt"/>
<line x1="82.60" y1="585.20" x2="87.10" y2="585.20" stroke="#000" stroke-width="2.1" stroke-linecap="butt"/>
<text class="b" x="82.10" y="589.01" font-size="11.2" font-weight="bold" text-anchor="end" textLength="26.4" lengthAdjust="spacingAndGlyphs">2000</text>
<line x1="82.60" y1="612.33" x2="87.10" y2="612.33" stroke="#000" stroke-width="2.1" stroke-linecap="butt"/>
<text class="b" x="82.10" y="616.13" font-size="11.2" font-weight="bold" text-anchor="end" textLength="26.4" lengthAdjust="spacingAndGlyphs">1500</text>
<line x1="82.60" y1="639.45" x2="87.10" y2="639.45" stroke="#000" stroke-width="2.1" stroke-linecap="butt"/>
<text class="b" x="82.10" y="643.26" font-size="11.2" font-weight="bold" text-anchor="end" textLength="26.4" lengthAdjust="spacingAndGlyphs">1000</text>
<line x1="82.60" y1="666.58" x2="87.10" y2="666.58" stroke="#000" stroke-width="2.1" stroke-linecap="butt"/>
<text class="b" x="82.10" y="670.38" font-size="11.2" font-weight="bold" text-anchor="end" textLength="19.8" lengthAdjust="spacingAndGlyphs">500</text>
<line x1="82.60" y1="693.70" x2="87.10" y2="693.70" stroke="#000" stroke-width="2.1" stroke-linecap="butt"/>
<text class="b" x="82.10" y="697.51" font-size="11.2" font-weight="bold" text-anchor="end" textLength="6.6" lengthAdjust="spacingAndGlyphs">0</text>
<text class="b" transform="translate(41.60,636.00) rotate(-90)" font-size="11.3" font-weight="bold" text-anchor="middle" textLength="65.0" lengthAdjust="spacingAndGlyphs">IFN-<tspan font-family='"Liberation Serif", "Times New Roman", serif' font-weight="bold">γ</tspan>(pg/ml)</text>
<line x1="91.58" y1="639.70" x2="91.58" y2="636.20" stroke="#000" stroke-width="1.4" stroke-linecap="butt"/>
<line x1="89.98" y1="636.20" x2="93.17" y2="636.20" stroke="#000" stroke-width="1.4" stroke-linecap="butt"/>
<rect x="88.65" y="639.70" width="5.85" height="54.00" fill="#000"/>
<rect x="90.35" y="641.20" width="2.25" height="51.80" fill="url(#ph)"/>
<line x1="97.42" y1="639.70" x2="97.42" y2="636.20" stroke="#000" stroke-width="1.4" stroke-linecap="butt"/>
<line x1="95.83" y1="636.20" x2="99.02" y2="636.20" stroke="#000" stroke-width="1.4" stroke-linecap="butt"/>
<rect x="94.50" y="639.70" width="5.85" height="54.00" fill="#000"/>
<rect x="96.27" y="641.80" width="2.3" height="2.4" fill="#fff"/>
<rect x="96.27" y="646.20" width="2.3" height="2.4" fill="#fff"/>
<rect x="96.27" y="650.60" width="2.3" height="2.4" fill="#fff"/>
<rect x="96.27" y="655.00" width="2.3" height="2.4" fill="#fff"/>
<rect x="96.27" y="659.40" width="2.3" height="2.4" fill="#fff"/>
<rect x="96.27" y="663.80" width="2.3" height="2.4" fill="#fff"/>
<rect x="96.27" y="668.20" width="2.3" height="2.4" fill="#fff"/>
<rect x="96.27" y="672.60" width="2.3" height="2.4" fill="#fff"/>
<rect x="96.27" y="677.00" width="2.3" height="2.4" fill="#fff"/>
<rect x="96.27" y="681.40" width="2.3" height="2.4" fill="#fff"/>
<rect x="96.27" y="685.80" width="2.3" height="2.4" fill="#fff"/>
<rect x="96.27" y="690.20" width="2.3" height="2.4" fill="#fff"/>
<line x1="99.80" y1="693.70" x2="99.80" y2="698.20" stroke="#000" stroke-width="1.5" stroke-linecap="butt"/>
<line x1="118.17" y1="653.60" x2="118.17" y2="652.50" stroke="#000" stroke-width="1.4" stroke-linecap="butt"/>
<line x1="116.58" y1="652.50" x2="119.77" y2="652.50" stroke="#000" stroke-width="1.4" stroke-linecap="butt"/>
<rect x="115.25" y="653.60" width="5.85" height="40.10" fill="#000"/>
<rect x="116.95" y="655.10" width="2.25" height="37.90" fill="url(#ph)"/>
<line x1="124.02" y1="630.20" x2="124.02" y2="626.70" stroke="#000" stroke-width="1.4" stroke-linecap="butt"/>
<line x1="122.42" y1="626.70" x2="125.62" y2="626.70" stroke="#000" stroke-width="1.4" stroke-linecap="butt"/>
<rect x="121.10" y="630.20" width="5.85" height="63.50" fill="#000"/>
<rect x="122.87" y="633.00" width="2.3" height="2.4" fill="#fff"/>
<rect x="122.87" y="637.40" width="2.3" height="2.4" fill="#fff"/>
<rect x="122.87" y="641.80" width="2.3" height="2.4" fill="#fff"/>
<rect x="122.87" y="646.20" width="2.3" height="2.4" fill="#fff"/>
<rect x="122.87" y="650.60" width="2.3" height="2.4" fill="#fff"/>
<rect x="122.87" y="655.00" width="2.3" height="2.4" fill="#fff"/>
<rect x="122.87" y="659.40" width="2.3" height="2.4" fill="#fff"/>
<rect x="122.87" y="663.80" width="2.3" height="2.4" fill="#fff"/>
<rect x="122.87" y="668.20" width="2.3" height="2.4" fill="#fff"/>
<rect x="122.87" y="672.60" width="2.3" height="2.4" fill="#fff"/>
<rect x="122.87" y="677.00" width="2.3" height="2.4" fill="#fff"/>
<rect x="122.87" y="681.40" width="2.3" height="2.4" fill="#fff"/>
<rect x="122.87" y="685.80" width="2.3" height="2.4" fill="#fff"/>
<rect x="122.87" y="690.20" width="2.3" height="2.4" fill="#fff"/>
<line x1="126.40" y1="693.70" x2="126.40" y2="698.20" stroke="#000" stroke-width="1.5" stroke-linecap="butt"/>
<rect x="141.65" y="668.30" width="5.85" height="25.40" fill="#000"/>
<rect x="143.35" y="669.80" width="2.25" height="23.20" fill="url(#ph)"/>
<line x1="150.42" y1="664.80" x2="150.42" y2="662.20" stroke="#000" stroke-width="1.4" stroke-linecap="butt"/>
<line x1="148.82" y1="662.20" x2="152.02" y2="662.20" stroke="#000" stroke-width="1.4" stroke-linecap="butt"/>
<rect x="147.50" y="664.80" width="5.85" height="28.90" fill="#000"/>
<rect x="149.27" y="668.20" width="2.3" height="2.4" fill="#fff"/>
<rect x="149.27" y="672.60" width="2.3" height="2.4" fill="#fff"/>
<rect x="149.27" y="677.00" width="2.3" height="2.4" fill="#fff"/>
<rect x="149.27" y="681.40" width="2.3" height="2.4" fill="#fff"/>
<rect x="149.27" y="685.80" width="2.3" height="2.4" fill="#fff"/>
<rect x="149.27" y="690.20" width="2.3" height="2.4" fill="#fff"/>
<line x1="152.80" y1="693.70" x2="152.80" y2="698.20" stroke="#000" stroke-width="1.5" stroke-linecap="butt"/>
<line x1="171.47" y1="641.40" x2="171.47" y2="637.60" stroke="#000" stroke-width="1.4" stroke-linecap="butt"/>
<line x1="169.88" y1="637.60" x2="173.07" y2="637.60" stroke="#000" stroke-width="1.4" stroke-linecap="butt"/>
<rect x="168.55" y="641.40" width="5.85" height="52.30" fill="#000"/>
<rect x="170.25" y="642.90" width="2.25" height="50.10" fill="url(#ph)"/>
<line x1="177.32" y1="631.90" x2="177.32" y2="622.50" stroke="#000" stroke-width="1.4" stroke-linecap="butt"/>
<line x1="175.72" y1="622.50" x2="178.92" y2="622.50" stroke="#000" stroke-width="1.4" stroke-linecap="butt"/>
<rect x="174.40" y="631.90" width="5.85" height="61.80" fill="#000"/>
<rect x="176.17" y="633.00" width="2.3" height="2.4" fill="#fff"/>
<rect x="176.17" y="637.40" width="2.3" height="2.4" fill="#fff"/>
<rect x="176.17" y="641.80" width="2.3" height="2.4" fill="#fff"/>
<rect x="176.17" y="646.20" width="2.3" height="2.4" fill="#fff"/>
<rect x="176.17" y="650.60" width="2.3" height="2.4" fill="#fff"/>
<rect x="176.17" y="655.00" width="2.3" height="2.4" fill="#fff"/>
<rect x="176.17" y="659.40" width="2.3" height="2.4" fill="#fff"/>
<rect x="176.17" y="663.80" width="2.3" height="2.4" fill="#fff"/>
<rect x="176.17" y="668.20" width="2.3" height="2.4" fill="#fff"/>
<rect x="176.17" y="672.60" width="2.3" height="2.4" fill="#fff"/>
<rect x="176.17" y="677.00" width="2.3" height="2.4" fill="#fff"/>
<rect x="176.17" y="681.40" width="2.3" height="2.4" fill="#fff"/>
<rect x="176.17" y="685.80" width="2.3" height="2.4" fill="#fff"/>
<rect x="176.17" y="690.20" width="2.3" height="2.4" fill="#fff"/>
<line x1="179.70" y1="693.70" x2="179.70" y2="698.20" stroke="#000" stroke-width="1.5" stroke-linecap="butt"/>
<rect x="195.25" y="669.60" width="5.85" height="24.10" fill="#000"/>
<rect x="196.95" y="671.10" width="2.25" height="21.90" fill="url(#ph)"/>
<rect x="201.10" y="666.50" width="5.85" height="27.20" fill="#000"/>
<rect x="202.87" y="668.20" width="2.3" height="2.4" fill="#fff"/>
<rect x="202.87" y="672.60" width="2.3" height="2.4" fill="#fff"/>
<rect x="202.87" y="677.00" width="2.3" height="2.4" fill="#fff"/>
<rect x="202.87" y="681.40" width="2.3" height="2.4" fill="#fff"/>
<rect x="202.87" y="685.80" width="2.3" height="2.4" fill="#fff"/>
<rect x="202.87" y="690.20" width="2.3" height="2.4" fill="#fff"/>
<line x1="206.40" y1="693.70" x2="206.40" y2="698.20" stroke="#000" stroke-width="1.5" stroke-linecap="butt"/>
<rect x="222.05" y="641.80" width="5.85" height="51.90" fill="#000"/>
<rect x="223.75" y="643.30" width="2.25" height="49.70" fill="url(#ph)"/>
<line x1="230.82" y1="636.80" x2="230.82" y2="629.00" stroke="#000" stroke-width="1.4" stroke-linecap="butt"/>
<line x1="229.22" y1="629.00" x2="232.42" y2="629.00" stroke="#000" stroke-width="1.4" stroke-linecap="butt"/>
<rect x="227.90" y="636.80" width="5.85" height="56.90" fill="#000"/>
<rect x="229.67" y="641.80" width="2.3" height="2.4" fill="#fff"/>
<rect x="229.67" y="646.20" width="2.3" height="2.4" fill="#fff"/>
<rect x="229.67" y="650.60" width="2.3" height="2.4" fill="#fff"/>
<rect x="229.67" y="655.00" width="2.3" height="2.4" fill="#fff"/>
<rect x="229.67" y="659.40" width="2.3" height="2.4" fill="#fff"/>
<rect x="229.67" y="663.80" width="2.3" height="2.4" fill="#fff"/>
<rect x="229.67" y="668.20" width="2.3" height="2.4" fill="#fff"/>
<rect x="229.67" y="672.60" width="2.3" height="2.4" fill="#fff"/>
<rect x="229.67" y="677.00" width="2.3" height="2.4" fill="#fff"/>
<rect x="229.67" y="681.40" width="2.3" height="2.4" fill="#fff"/>
<rect x="229.67" y="685.80" width="2.3" height="2.4" fill="#fff"/>
<rect x="229.67" y="690.20" width="2.3" height="2.4" fill="#fff"/>
<line x1="233.20" y1="693.70" x2="233.20" y2="698.20" stroke="#000" stroke-width="1.5" stroke-linecap="butt"/>
<rect x="90.20" y="584.30" width="15.00" height="9.20" fill="#000"/>
<rect x="92.10" y="586.50" width="11.20" height="5.00" fill="url(#pl)"/>
<rect x="90.20" y="596.30" width="15.00" height="9.00" fill="#000"/>
<circle cx="93.60" cy="600.80" r="1.95" fill="#fff"/>
<circle cx="93.60" cy="600.80" r="0.7" fill="#222"/>
<circle cx="97.70" cy="600.80" r="1.95" fill="#fff"/>
<circle cx="97.70" cy="600.80" r="0.7" fill="#222"/>
<circle cx="101.80" cy="600.80" r="1.95" fill="#fff"/>
<circle cx="101.80" cy="600.80" r="0.7" fill="#222"/>
<text class="b" x="111.00" y="592.00" font-size="8.6" font-weight="bold" text-anchor="start">1:5</text>
<text class="b" x="111.00" y="604.10" font-size="8.6" font-weight="bold" text-anchor="start">1:10</text>
<text class="b" transform="translate(96.30,706.80) rotate(-59.5)" font-size="11.5" font-weight="bold" text-anchor="end" style="stroke-width:0.7px">Medium</text>
<text class="b" transform="translate(121.50,714.40) rotate(-59.5)" font-size="11.5" font-weight="bold" text-anchor="end" style="stroke-width:0.7px">IFN-<tspan font-family='"Liberation Serif", "Times New Roman", serif' font-weight="normal" font-size="1.15em">β</tspan></text>
<text class="b" transform="translate(156.20,706.60) rotate(-59.5)" font-size="11.5" font-weight="bold" text-anchor="end" style="stroke-width:0.7px">IFN-<tspan font-family='"Liberation Serif", "Times New Roman", serif' font-weight="normal" font-size="1.15em">β</tspan>+SB</text>
<text class="b" transform="translate(180.00,715.00) rotate(-59.5)" font-size="11.5" font-weight="bold" text-anchor="end" style="stroke-width:0.7px">IFN-<tspan font-family='"Liberation Serif", "Times New Roman", serif' font-weight="normal" font-size="1.15em">β</tspan>+IC</text>
<text class="b" transform="translate(207.20,715.40) rotate(-59.5)" font-size="11.5" font-weight="bold" text-anchor="end" style="stroke-width:0.7px">IFN-<tspan font-family='"Liberation Serif", "Times New Roman", serif' font-weight="normal" font-size="1.15em">β</tspan>+SB+IC</text>
<text class="b" transform="translate(241.00,710.00) rotate(-59.5)" font-size="11.5" font-weight="bold" text-anchor="end" style="stroke-width:0.7px">IFN-<tspan font-family='"Liberation Serif", "Times New Roman", serif' font-weight="normal" font-size="1.15em">β</tspan>+SB+Anti-IL10</text>
<polyline points="91.20,633.50 91.20,628.40 117.70,628.40 117.70,650.50" fill="none" stroke="#000" stroke-width="1.5" stroke-linejoin="miter"/>
<text class="b" x="104.70" y="630.58" font-size="10" font-weight="bold" text-anchor="middle">*</text>
<polyline points="118.90,624.70 118.90,610.80 146.60,610.80 146.60,660.00" fill="none" stroke="#000" stroke-width="1.6" stroke-linejoin="miter"/>
<line x1="114.60" y1="624.70" x2="125.30" y2="624.70" stroke="#000" stroke-width="1.6" stroke-linecap="butt"/>
<line x1="141.40" y1="660.00" x2="152.30" y2="660.00" stroke="#000" stroke-width="1.6" stroke-linecap="butt"/>
<text class="b" x="133.90" y="613.28" font-size="10" font-weight="bold" text-anchor="middle" letter-spacing="1.2">***</text>
<polyline points="172.10,619.80 172.10,606.00 200.70,606.00 200.70,615.50" fill="none" stroke="#000" stroke-width="1.6" stroke-linejoin="miter"/>
<line x1="167.30" y1="619.80" x2="177.30" y2="619.80" stroke="#000" stroke-width="1.6" stroke-linecap="butt"/>
<text class="b" x="189.20" y="608.08" font-size="10" font-weight="bold" text-anchor="middle" letter-spacing="1.2">***</text>
<polyline points="200.20,663.90 200.20,618.90 227.20,618.90 227.20,625.90" fill="none" stroke="#000" stroke-width="1.6" stroke-linejoin="miter"/>
<line x1="195.50" y1="663.90" x2="205.30" y2="663.90" stroke="#000" stroke-width="1.6" stroke-linecap="butt"/>
<line x1="222.70" y1="625.90" x2="231.80" y2="625.90" stroke="#000" stroke-width="1.6" stroke-linecap="butt"/>
<text class="b" x="213.70" y="617.58" font-size="10" font-weight="bold" text-anchor="middle" letter-spacing="1.2">***</text>
<text class="L" x="267.30" y="595.20" font-size="21" font-weight="normal" text-anchor="start">H</text>
<line x1="357.00" y1="584.45" x2="357.00" y2="694.75" stroke="#000" stroke-width="2.1" stroke-linecap="butt"/>
<line x1="352.50" y1="693.70" x2="520.00" y2="693.70" stroke="#000" stroke-width="2.1" stroke-linecap="butt"/>
<line x1="352.50" y1="585.50" x2="357.00" y2="585.50" stroke="#000" stroke-width="2.1" stroke-linecap="butt"/>
<text class="b" x="352.00" y="589.31" font-size="11.2" font-weight="bold" text-anchor="end" textLength="19.8" lengthAdjust="spacingAndGlyphs">600</text>
<line x1="352.50" y1="621.57" x2="357.00" y2="621.57" stroke="#000" stroke-width="2.1" stroke-linecap="butt"/>
<text class="b" x="352.00" y="625.37" font-size="11.2" font-weight="bold" text-anchor="end" textLength="19.8" lengthAdjust="spacingAndGlyphs">400</text>
<line x1="352.50" y1="657.63" x2="357.00" y2="657.63" stroke="#000" stroke-width="2.1" stroke-linecap="butt"/>
<text class="b" x="352.00" y="661.44" font-size="11.2" font-weight="bold" text-anchor="end" textLength="19.8" lengthAdjust="spacingAndGlyphs">200</text>
<line x1="352.50" y1="693.70" x2="357.00" y2="693.70" stroke="#000" stroke-width="2.1" stroke-linecap="butt"/>
<text class="b" x="352.00" y="697.51" font-size="11.2" font-weight="bold" text-anchor="end" textLength="6.6" lengthAdjust="spacingAndGlyphs">0</text>
<text class="b" transform="translate(320.00,635.60) rotate(-90)" font-size="11.3" font-weight="bold" text-anchor="middle" textLength="66.0" lengthAdjust="spacingAndGlyphs">IL-17(pg/ml)</text>
<line x1="361.88" y1="627.10" x2="361.88" y2="620.20" stroke="#000" stroke-width="1.4" stroke-linecap="butt"/>
<line x1="360.27" y1="620.20" x2="363.48" y2="620.20" stroke="#000" stroke-width="1.4" stroke-linecap="butt"/>
<rect x="358.95" y="627.10" width="5.85" height="66.60" fill="#000"/>
<rect x="360.65" y="628.60" width="2.25" height="64.40" fill="url(#ph)"/>
<line x1="367.73" y1="627.10" x2="367.73" y2="620.20" stroke="#000" stroke-width="1.4" stroke-linecap="butt"/>
<line x1="366.12" y1="620.20" x2="369.33" y2="620.20" stroke="#000" stroke-width="1.4" stroke-linecap="butt"/>
<rect x="364.80" y="627.10" width="5.85" height="66.60" fill="#000"/>
<rect x="366.58" y="628.60" width="2.3" height="2.4" fill="#fff"/>
<rect x="366.58" y="633.00" width="2.3" height="2.4" fill="#fff"/>
<rect x="366.58" y="637.40" width="2.3" height="2.4" fill="#fff"/>
<rect x="366.58" y="641.80" width="2.3" height="2.4" fill="#fff"/>
<rect x="366.58" y="646.20" width="2.3" height="2.4" fill="#fff"/>
<rect x="366.58" y="650.60" width="2.3" height="2.4" fill="#fff"/>
<rect x="366.58" y="655.00" width="2.3" height="2.4" fill="#fff"/>
<rect x="366.58" y="659.40" width="2.3" height="2.4" fill="#fff"/>
<rect x="366.58" y="663.80" width="2.3" height="2.4" fill="#fff"/>
<rect x="366.58" y="668.20" width="2.3" height="2.4" fill="#fff"/>
<rect x="366.58" y="672.60" width="2.3" height="2.4" fill="#fff"/>
<rect x="366.58" y="677.00" width="2.3" height="2.4" fill="#fff"/>
<rect x="366.58" y="681.40" width="2.3" height="2.4" fill="#fff"/>
<rect x="366.58" y="685.80" width="2.3" height="2.4" fill="#fff"/>
<rect x="366.58" y="690.20" width="2.3" height="2.4" fill="#fff"/>
<line x1="370.10" y1="693.70" x2="370.10" y2="698.20" stroke="#000" stroke-width="1.5" stroke-linecap="butt"/>
<line x1="388.47" y1="635.00" x2="388.47" y2="630.50" stroke="#000" stroke-width="1.4" stroke-linecap="butt"/>
<line x1="386.87" y1="630.50" x2="390.07" y2="630.50" stroke="#000" stroke-width="1.4" stroke-linecap="butt"/>
<rect x="385.55" y="635.00" width="5.85" height="58.70" fill="#000"/>
<rect x="387.25" y="636.50" width="2.25" height="56.50" fill="url(#ph)"/>
<line x1="394.32" y1="626.40" x2="394.32" y2="619.80" stroke="#000" stroke-width="1.4" stroke-linecap="butt"/>
<line x1="392.72" y1="619.80" x2="395.93" y2="619.80" stroke="#000" stroke-width="1.4" stroke-linecap="butt"/>
<rect x="391.40" y="626.40" width="5.85" height="67.30" fill="#000"/>
<rect x="393.18" y="628.60" width="2.3" height="2.4" fill="#fff"/>
<rect x="393.18" y="633.00" width="2.3" height="2.4" fill="#fff"/>
<rect x="393.18" y="637.40" width="2.3" height="2.4" fill="#fff"/>
<rect x="393.18" y="641.80" width="2.3" height="2.4" fill="#fff"/>
<rect x="393.18" y="646.20" width="2.3" height="2.4" fill="#fff"/>
<rect x="393.18" y="650.60" width="2.3" height="2.4" fill="#fff"/>
<rect x="393.18" y="655.00" width="2.3" height="2.4" fill="#fff"/>
<rect x="393.18" y="659.40" width="2.3" height="2.4" fill="#fff"/>
<rect x="393.18" y="663.80" width="2.3" height="2.4" fill="#fff"/>
<rect x="393.18" y="668.20" width="2.3" height="2.4" fill="#fff"/>
<rect x="393.18" y="672.60" width="2.3" height="2.4" fill="#fff"/>
<rect x="393.18" y="677.00" width="2.3" height="2.4" fill="#fff"/>
<rect x="393.18" y="681.40" width="2.3" height="2.4" fill="#fff"/>
<rect x="393.18" y="685.80" width="2.3" height="2.4" fill="#fff"/>
<rect x="393.18" y="690.20" width="2.3" height="2.4" fill="#fff"/>
<line x1="396.70" y1="693.70" x2="396.70" y2="698.20" stroke="#000" stroke-width="1.5" stroke-linecap="butt"/>
<line x1="415.18" y1="670.00" x2="415.18" y2="667.90" stroke="#000" stroke-width="1.4" stroke-linecap="butt"/>
<line x1="413.57" y1="667.90" x2="416.78" y2="667.90" stroke="#000" stroke-width="1.4" stroke-linecap="butt"/>
<rect x="412.25" y="670.00" width="5.85" height="23.70" fill="#000"/>
<rect x="413.95" y="671.50" width="2.25" height="21.50" fill="url(#ph)"/>
<line x1="421.03" y1="663.40" x2="421.03" y2="659.70" stroke="#000" stroke-width="1.4" stroke-linecap="butt"/>
<line x1="419.43" y1="659.70" x2="422.63" y2="659.70" stroke="#000" stroke-width="1.4" stroke-linecap="butt"/>
<rect x="418.10" y="663.40" width="5.85" height="30.30" fill="#000"/>
<rect x="419.88" y="668.20" width="2.3" height="2.4" fill="#fff"/>
<rect x="419.88" y="672.60" width="2.3" height="2.4" fill="#fff"/>
<rect x="419.88" y="677.00" width="2.3" height="2.4" fill="#fff"/>
<rect x="419.88" y="681.40" width="2.3" height="2.4" fill="#fff"/>
<rect x="419.88" y="685.80" width="2.3" height="2.4" fill="#fff"/>
<rect x="419.88" y="690.20" width="2.3" height="2.4" fill="#fff"/>
<line x1="423.40" y1="693.70" x2="423.40" y2="698.20" stroke="#000" stroke-width="1.5" stroke-linecap="butt"/>
<line x1="441.77" y1="629.30" x2="441.77" y2="620.20" stroke="#000" stroke-width="1.4" stroke-linecap="butt"/>
<line x1="440.17" y1="620.20" x2="443.38" y2="620.20" stroke="#000" stroke-width="1.4" stroke-linecap="butt"/>
<rect x="438.85" y="629.30" width="5.85" height="64.40" fill="#000"/>
<rect x="440.55" y="630.80" width="2.25" height="62.20" fill="url(#ph)"/>
<line x1="447.62" y1="617.20" x2="447.62" y2="604.70" stroke="#000" stroke-width="1.4" stroke-linecap="butt"/>
<line x1="446.02" y1="604.70" x2="449.23" y2="604.70" stroke="#000" stroke-width="1.4" stroke-linecap="butt"/>
<rect x="444.70" y="617.20" width="5.85" height="76.50" fill="#000"/>
<rect x="446.48" y="619.80" width="2.3" height="2.4" fill="#fff"/>
<rect x="446.48" y="624.20" width="2.3" height="2.4" fill="#fff"/>
<rect x="446.48" y="628.60" width="2.3" height="2.4" fill="#fff"/>
<rect x="446.48" y="633.00" width="2.3" height="2.4" fill="#fff"/>
<rect x="446.48" y="637.40" width="2.3" height="2.4" fill="#fff"/>
<rect x="446.48" y="641.80" width="2.3" height="2.4" fill="#fff"/>
<rect x="446.48" y="646.20" width="2.3" height="2.4" fill="#fff"/>
<rect x="446.48" y="650.60" width="2.3" height="2.4" fill="#fff"/>
<rect x="446.48" y="655.00" width="2.3" height="2.4" fill="#fff"/>
<rect x="446.48" y="659.40" width="2.3" height="2.4" fill="#fff"/>
<rect x="446.48" y="663.80" width="2.3" height="2.4" fill="#fff"/>
<rect x="446.48" y="668.20" width="2.3" height="2.4" fill="#fff"/>
<rect x="446.48" y="672.60" width="2.3" height="2.4" fill="#fff"/>
<rect x="446.48" y="677.00" width="2.3" height="2.4" fill="#fff"/>
<rect x="446.48" y="681.40" width="2.3" height="2.4" fill="#fff"/>
<rect x="446.48" y="685.80" width="2.3" height="2.4" fill="#fff"/>
<rect x="446.48" y="690.20" width="2.3" height="2.4" fill="#fff"/>
<line x1="450.00" y1="693.70" x2="450.00" y2="698.20" stroke="#000" stroke-width="1.5" stroke-linecap="butt"/>
<line x1="468.47" y1="669.70" x2="468.47" y2="667.40" stroke="#000" stroke-width="1.4" stroke-linecap="butt"/>
<line x1="466.87" y1="667.40" x2="470.07" y2="667.40" stroke="#000" stroke-width="1.4" stroke-linecap="butt"/>
<rect x="465.55" y="669.70" width="5.85" height="24.00" fill="#000"/>
<rect x="467.25" y="671.20" width="2.25" height="21.80" fill="url(#ph)"/>
<line x1="474.32" y1="669.70" x2="474.32" y2="667.40" stroke="#000" stroke-width="1.4" stroke-linecap="butt"/>
<line x1="472.72" y1="667.40" x2="475.93" y2="667.40" stroke="#000" stroke-width="1.4" stroke-linecap="butt"/>
<rect x="471.40" y="669.70" width="5.85" height="24.00" fill="#000"/>
<rect x="473.18" y="672.60" width="2.3" height="2.4" fill="#fff"/>
<rect x="473.18" y="677.00" width="2.3" height="2.4" fill="#fff"/>
<rect x="473.18" y="681.40" width="2.3" height="2.4" fill="#fff"/>
<rect x="473.18" y="685.80" width="2.3" height="2.4" fill="#fff"/>
<rect x="473.18" y="690.20" width="2.3" height="2.4" fill="#fff"/>
<line x1="476.70" y1="693.70" x2="476.70" y2="698.20" stroke="#000" stroke-width="1.5" stroke-linecap="butt"/>
<line x1="495.47" y1="638.80" x2="495.47" y2="637.50" stroke="#000" stroke-width="1.4" stroke-linecap="butt"/>
<line x1="493.87" y1="637.50" x2="497.07" y2="637.50" stroke="#000" stroke-width="1.4" stroke-linecap="butt"/>
<rect x="492.55" y="638.80" width="5.85" height="54.90" fill="#000"/>
<rect x="494.25" y="640.30" width="2.25" height="52.70" fill="url(#ph)"/>
<line x1="501.32" y1="628.50" x2="501.32" y2="622.40" stroke="#000" stroke-width="1.4" stroke-linecap="butt"/>
<line x1="499.72" y1="622.40" x2="502.93" y2="622.40" stroke="#000" stroke-width="1.4" stroke-linecap="butt"/>
<rect x="498.40" y="628.50" width="5.85" height="65.20" fill="#000"/>
<rect x="500.18" y="633.00" width="2.3" height="2.4" fill="#fff"/>
<rect x="500.18" y="637.40" width="2.3" height="2.4" fill="#fff"/>
<rect x="500.18" y="641.80" width="2.3" height="2.4" fill="#fff"/>
<rect x="500.18" y="646.20" width="2.3" height="2.4" fill="#fff"/>
<rect x="500.18" y="650.60" width="2.3" height="2.4" fill="#fff"/>
<rect x="500.18" y="655.00" width="2.3" height="2.4" fill="#fff"/>
<rect x="500.18" y="659.40" width="2.3" height="2.4" fill="#fff"/>
<rect x="500.18" y="663.80" width="2.3" height="2.4" fill="#fff"/>
<rect x="500.18" y="668.20" width="2.3" height="2.4" fill="#fff"/>
<rect x="500.18" y="672.60" width="2.3" height="2.4" fill="#fff"/>
<rect x="500.18" y="677.00" width="2.3" height="2.4" fill="#fff"/>
<rect x="500.18" y="681.40" width="2.3" height="2.4" fill="#fff"/>
<rect x="500.18" y="685.80" width="2.3" height="2.4" fill="#fff"/>
<rect x="500.18" y="690.20" width="2.3" height="2.4" fill="#fff"/>
<line x1="503.70" y1="693.70" x2="503.70" y2="698.20" stroke="#000" stroke-width="1.5" stroke-linecap="butt"/>
<rect x="360.60" y="580.30" width="14.30" height="8.30" fill="#000"/>
<rect x="362.50" y="582.50" width="10.50" height="4.10" fill="url(#pl)"/>
<rect x="360.60" y="591.40" width="14.30" height="9.10" fill="#000"/>
<circle cx="363.65" cy="595.95" r="1.95" fill="#fff"/>
<circle cx="363.65" cy="595.95" r="0.7" fill="#222"/>
<circle cx="367.75" cy="595.95" r="1.95" fill="#fff"/>
<circle cx="367.75" cy="595.95" r="0.7" fill="#222"/>
<circle cx="371.85" cy="595.95" r="1.95" fill="#fff"/>
<circle cx="371.85" cy="595.95" r="0.7" fill="#222"/>
<text class="b" x="381.10" y="586.70" font-size="8.6" font-weight="bold" text-anchor="start">1:5</text>
<text class="b" x="381.10" y="598.80" font-size="8.6" font-weight="bold" text-anchor="start">1:10</text>
<text class="b" transform="translate(366.50,706.80) rotate(-59.5)" font-size="11.5" font-weight="bold" text-anchor="end" style="stroke-width:0.7px">Medium</text>
<text class="b" transform="translate(391.70,714.40) rotate(-59.5)" font-size="11.5" font-weight="bold" text-anchor="end" style="stroke-width:0.7px">IFN-<tspan font-family='"Liberation Serif", "Times New Roman", serif' font-weight="normal" font-size="1.15em">β</tspan></text>
<text class="b" transform="translate(426.40,706.60) rotate(-59.5)" font-size="11.5" font-weight="bold" text-anchor="end" style="stroke-width:0.7px">IFN-<tspan font-family='"Liberation Serif", "Times New Roman", serif' font-weight="normal" font-size="1.15em">β</tspan>+SB</text>
<text class="b" transform="translate(450.20,715.00) rotate(-59.5)" font-size="11.5" font-weight="bold" text-anchor="end" style="stroke-width:0.7px">IFN-<tspan font-family='"Liberation Serif", "Times New Roman", serif' font-weight="normal" font-size="1.15em">β</tspan>+IC</text>
<text class="b" transform="translate(477.40,715.40) rotate(-59.5)" font-size="11.5" font-weight="bold" text-anchor="end" style="stroke-width:0.7px">IFN-<tspan font-family='"Liberation Serif", "Times New Roman", serif' font-weight="normal" font-size="1.15em">β</tspan>+SB+IC</text>
<text class="b" transform="translate(511.20,710.00) rotate(-59.5)" font-size="11.5" font-weight="bold" text-anchor="end" style="stroke-width:0.7px">IFN-<tspan font-family='"Liberation Serif", "Times New Roman", serif' font-weight="normal" font-size="1.15em">β</tspan>+SB+Anti-IL10</text>
<polyline points="390.20,618.20 390.20,611.50 418.20,611.50 418.20,657.00" fill="none" stroke="#000" stroke-width="1.6" stroke-linejoin="miter"/>
<line x1="385.90" y1="618.20" x2="395.40" y2="618.20" stroke="#000" stroke-width="1.6" stroke-linecap="butt"/>
<line x1="412.70" y1="657.00" x2="422.20" y2="657.00" stroke="#000" stroke-width="1.6" stroke-linecap="butt"/>
<text class="b" x="403.90" y="613.88" font-size="10" font-weight="bold" text-anchor="middle" letter-spacing="1.2">***</text>
<polyline points="443.00,603.70 443.00,596.10 471.20,596.10 471.20,609.40" fill="none" stroke="#000" stroke-width="1.6" stroke-linejoin="miter"/>
<line x1="438.70" y1="603.70" x2="448.20" y2="603.70" stroke="#000" stroke-width="1.6" stroke-linecap="butt"/>
<text class="b" x="456.90" y="598.48" font-size="10" font-weight="bold" text-anchor="middle" letter-spacing="1.2">***</text>
<polyline points="470.70,662.70 470.70,612.00 497.50,612.00 497.50,620.20" fill="none" stroke="#000" stroke-width="1.6" stroke-linejoin="miter"/>
<line x1="466.30" y1="662.70" x2="475.90" y2="662.70" stroke="#000" stroke-width="1.6" stroke-linecap="butt"/>
<line x1="492.70" y1="620.20" x2="501.80" y2="620.20" stroke="#000" stroke-width="1.6" stroke-linecap="butt"/>
<text class="b" x="485.10" y="614.68" font-size="10" font-weight="bold" text-anchor="middle" letter-spacing="1.2">***</text>
</svg></body></html>
